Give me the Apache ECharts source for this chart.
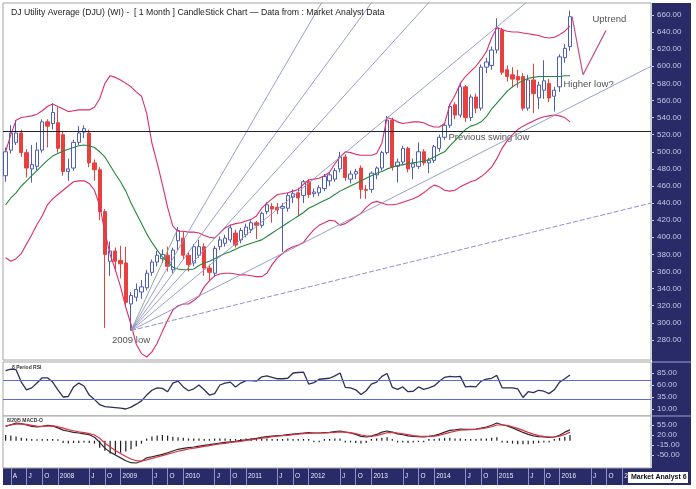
<!DOCTYPE html>
<html>
<head>
<meta charset="UTF-8">
<title>DJ Utility Average monthly</title>
<style type="text/css">
   html, body{
      margin:0;
      padding:0;
      background-color:#ffffff;
   }
   #container{
      width:696px;
      height:489px;
   }
</style>
</head>
<body>
<div id="container"></div>
<script src="https://cdn.jsdelivr.net/npm/echarts/dist/echarts.min.js"></script>
<script type="text/javascript">
// monthly bars from 2007-03, axis runs on to 2017-06
var startYear = 2007, startMonth = 3, monthCount = 124;

// [open, close, low, high]
var candles = [
  [472,500,465,505],[502,522,498,531],[511,522,508,537],[522,499,494,526],[499,481,470,503],
  [480,485,464,508],[483,502,478,511],[502,535,499,538],[535,530,505,538],[533,546,526,557],
  [534,504,499,552],[520,477,472,524],[477,480,466,492],[481,511,478,514],[511,522,508,530],
  [523,527,516,531],[522,487,482,526],[487,479,466,491],[479,430,420,482],[430,380,294,433],
  [372,384,355,395],[384,372,360,388],[373,369,352,390],[370,324,318,389],[322,332,291,336],
  [330,339,325,346],[336,342,328,350],[341,358,338,362],[359,371,355,374],[371,379,366,384],
  [375,380,370,386],[379,366,360,389],[362,385,358,388],[396,408,385,412],[399,379,374,407],
  [379,368,360,382],[370,389,366,392],[379,389,376,397],[389,364,355,393],[364,359,350,368],
  [358,387,354,390],[389,397,385,401],[393,399,389,403],[397,411,394,415],[405,391,388,409],
  [397,408,393,411],[403,412,400,416],[409,417,405,420],[417,414,398,419],[414,428,411,430],
  [430,438,427,441],[436,433,417,440],[435,432,427,440],[434,436,383,440],[434,449,430,452],
  [447,451,440,456],[452,446,425,458],[449,465,440,467],[465,450,446,468],[451,453,447,457],
  [452,458,448,461],[457,471,454,474],[466,473,460,476],[468,478,465,481],[480,494,476,500],
  [494,470,466,497],[468,474,463,478],[474,477,468,480],[481,456,445,484],[456,455,445,461],
  [456,475,452,477],[473,481,468,483],[481,499,478,501],[499,537,497,542],[537,482,478,540],
  [483,488,464,492],[488,504,484,507],[504,480,476,506],[482,486,468,492],[483,500,480,511],
  [500,487,484,503],[487,490,475,493],[490,506,487,508],[504,517,500,520],[517,531,514,534],
  [531,553,528,556],[555,543,538,558],[543,576,540,580],[576,540,535,578],[540,564,536,567],
  [564,551,545,568],[551,599,548,602],[599,605,592,610],[601,619,596,623],[619,645,615,656],
  [642,593,590,645],[596,588,582,601],[590,585,576,599],[588,584,575,596],[588,551,548,592],
  [551,584,548,590],[584,568,545,603],[563,578,550,582],[572,583,562,607],[580,563,558,585],
  [565,572,547,576],[576,611,570,614],[610,621,604,626],[623,658,618,665]
];

var upperBand = [
  500,520,537,540,541,542,544,548,553,556,
  553,550,547,548,549,549,549,552,562,580,
  589,587,584,580,576,570,565,545,510,487,
  462,435,413,407,407,406,406,405,402,400,
  399,405,411,414,416,417,419,421,425,434,
  440,445,450,451,452,454,456,462,467,468,
  469,472,476,486,494,500,499,497,496,496,
  496,498,510,540,538,535,533,534,535,535,
  534,531,529,529,533,555,566,580,588,594,
  600,608,617,633,645,643,641,640,640,639,
  638,637,636,634,633,634,637,641,647
];
var midBand = [
  438,446,452,460,466,472,478,484,490,495,
  498,501,503,505,507,508,507,505,500,494,
  484,474,465,454,440,428,416,404,394,385,
  377,371,365,363,362,362,363,367,370,372,
  375,378,381,383,386,389,391,393,395,397,
  401,405,409,413,417,421,425,429,434,437,
  440,443,446,450,454,457,460,463,466,469,
  472,475,477,480,482,484,485,486,487,488,
  489,491,494,497,500,507,513,520,526,530,
  532,535,541,550,557,564,571,576,580,583,
  586,587,588,588,588,588,588,589,589
];
var lowerBand = [
  376,372,375,381,392,403,415,425,438,445,
  450,455,460,465,466,466,463,455,437,406,
  380,362,342,318,298,275,264,260,266,276,
  290,303,315,320,322,322,326,331,342,349,
  355,357,358,358,357,356,356,355,354,354,
  358,368,376,381,386,389,391,394,402,409,
  414,417,420,419,414,416,420,424,428,435,
  440,442,440,438,438,439,441,443,445,448,
  452,457,461,459,455,454,455,459,462,465,
  467,471,476,482,492,504,513,520,526,530,
  533,536,539,541,542,543,542,540,535
];

var rsi = [
  90,93,92,66,50,54,64,75,75,66,
  50,35,36,56,64,58,39,30,19,15,
  14,13,12,10,14,20,27,39,49,54,
  53,46,64,68,56,48,52,60,50,39,
  42,60,64,66,56,64,69,69,68,77,
  79,76,73,73,74,85,86,87,62,65,
  72,73,74,79,85,55,54,50,40,48,
  62,66,78,84,55,51,56,46,47,56,
  51,54,58,68,76,78,77,78,56,57,
  56,68,72,74,80,54,54,54,52,34,
  46,44,49,47,42,50,66,73,81
];

var macd = [
  50,56,62,60,55,50,48,50,54,52,
  45,37,33,29,27,24,21,12,-6,-26,
  -40,-50,-60,-70,-77,-78,-72,-60,-56,-52,
  -48,-42,-36,-30,-27,-24,-22,-19,-16,-14,
  -11,-8,-6,-4,-2,1,3,6,8,12,
  14,16,18,19,21,23,25,27,28,27,
  27,28,29,32,34,30,27,22,15,13,
  16,22,30,34,30,24,21,17,15,14,
  13,15,18,23,30,36,38,41,40,40,
  41,44,48,54,62,56,52,45,37,29,
  22,17,14,13,12,13,19,30,38
];
var macdSignal = [
  52,55,58,59,57,54,51,50,51,52,
  49,44,39,35,31,28,25,20,9,-8,
  -22,-34,-45,-55,-64,-70,-71,-67,-62,-57,
  -52,-47,-42,-37,-33,-29,-26,-23,-20,-17,
  -14,-11,-9,-6,-4,-2,1,3,6,9,
  11,14,16,18,19,21,23,25,26,27,
  27,27,28,29,31,30,28,25,20,17,
  16,18,23,28,29,27,24,21,18,16,
  15,15,16,19,24,29,33,37,38,39,
  40,42,45,49,55,55,54,49,43,36,
  29,23,18,15,13,13,16,22,30
];
var macdHist = [
  20,18,15,10,8,6,5,6,6,6,
  5,-8,-10,-8,-8,-6,-8,-10,-25,-35,
  -45,-48,-42,-38,-30,-20,-10,8,15,18,
  20,18,14,12,10,8,8,8,6,6,
  8,8,8,6,6,6,8,8,6,8,
  8,6,6,6,8,6,6,6,6,-5,
  -5,6,6,8,8,-6,-6,-8,-10,-8,
  6,8,10,12,6,-6,-6,-8,-6,-5,
  -5,6,6,8,10,10,8,8,6,6,
  6,8,8,10,12,-6,-8,-10,-12,-12,
  -12,-10,-8,-6,-6,6,10,14,20
];

var priceTicks = [280,300,320,340,360,380,400,420,440,460,480,500,520,540,560,580,600,620,640,660];
var rsiTicks = [10,35,60,85];
var macdTicks = [-50,-15,20,55];

// overlay lines in [month index, price]
var fanOrigin = [24, 291];
var fanEnds = [[61, 680], [70.7, 680], [81.8, 680], [100.7, 680], [123.5, 600]];
var fanDashedEnd = [123.5, 440];
var fanSteepEnd = [32.8, 408];
var swingLow = 524;
var arrowPath = [[108.4, 658], [110.5, 590], [114.9, 642]];
var notes = [
  {text: '2009 low', at: [24, 291], pos: 'bottom'},
  {text: 'Previous swing low', at: [84.65, 516.7], pos: 'right'},
  {text: 'Higher low?', at: [106.66, 579.3], pos: 'right'},
  {text: 'Uptrend', at: [112.2, 655.3], pos: 'right'}
];

var months = [];
for (var k = 0; k < monthCount; k++) {
   var mm = (startMonth - 1 + k) % 12 + 1;
   var yy = startYear + Math.floor((startMonth - 1 + k) / 12);
   months.push(yy + '-' + (mm < 10 ? '0' + mm : mm));
}

var FONT = '"Liberation Sans", Arial, sans-serif';
var navy = '#282b68';
var axisText = '#c3c7e3';

function markMonth(idx, val){
   var m = +val.slice(5, 7);
   return m === 1 || m === 7 || m === 10 || val === '2007-04';
}
function monthLabel(val){
   var m = +val.slice(5, 7);
   if (m === 1) return val.slice(0, 4);
   return m === 4 ? 'A' : (m === 7 ? 'J' : 'O');
}
function two(v){ return v.toFixed(2); }

function rightAxis(grid, min, max, ticks){
   return {
      type: 'value', gridIndex: grid, position: 'right', min: min, max: max,
      splitLine: {show: false},
      axisLine: {show: false, onZero: false},
      axisTick: {show: true, customValues: ticks, length: 3, lineStyle: {color: axisText}},
      axisLabel: {customValues: ticks, formatter: two, color: axisText, fontSize: 8, margin: 6, fontFamily: FONT}
   };
}

var series = [];

series.push({
   type: 'candlestick', xAxisIndex: 0, yAxisIndex: 0,
   data: candles, barWidth: '72%',
   itemStyle: {color: '#ffffff', color0: '#e8413d', borderColor: '#4e5db8', borderColor0: '#e8413d', borderWidth: 1},
   markLine: {
      silent: true, symbol: 'none', label: {show: false},
      lineStyle: {color: '#222222', width: 1.2, type: 'solid'},
      data: [{yAxis: swingLow}]
   }
});

function bandLine(data, color){
   return {type: 'line', xAxisIndex: 0, yAxisIndex: 0, data: data, symbol: 'none', silent: true,
           lineStyle: {color: color, width: 1.1}};
}
series.push(bandLine(upperBand, '#dc2d6a'));
series.push(bandLine(lowerBand, '#dc2d6a'));
series.push(bandLine(midBand, '#23873a'));

fanEnds.forEach(function(end){
   series.push({type: 'line', xAxisIndex: 3, yAxisIndex: 0, data: [fanOrigin, end], symbol: 'none', silent: true,
                lineStyle: {color: '#8d93c9', width: 0.9}});
});
series.push({type: 'line', xAxisIndex: 3, yAxisIndex: 0, data: [fanOrigin, fanDashedEnd], symbol: 'none', silent: true,
             lineStyle: {color: '#8d93c9', width: 1, type: [5, 2]}});
series.push({type: 'line', xAxisIndex: 3, yAxisIndex: 0, data: [fanOrigin, fanSteepEnd], symbol: 'none', silent: true,
             lineStyle: {color: '#7fa27f', width: 0.9}});

series.push({type: 'line', xAxisIndex: 3, yAxisIndex: 0, data: arrowPath, symbol: 'none', silent: true,
             lineStyle: {color: '#c4508c', width: 1.2}});

series.push({
   type: 'scatter', xAxisIndex: 3, yAxisIndex: 0, symbolSize: 1, silent: true,
   itemStyle: {color: 'rgba(0,0,0,0)'},
   data: notes.map(function(n){
      return {value: n.at, label: {show: true, formatter: n.text, position: n.pos, distance: n.pos === 'bottom' ? 4 : 0}};
   }),
   label: {color: '#1e1e1e', fontSize: 9.5, fontFamily: FONT}
});

series.push({
   type: 'line', xAxisIndex: 1, yAxisIndex: 1, data: rsi, symbol: 'none', silent: true,
   lineStyle: {color: '#2d3057', width: 1.3},
   markLine: {
      silent: true, symbol: 'none', label: {show: false},
      lineStyle: {color: '#5a6ad6', width: 1, type: 'solid'},
      data: [{yAxis: 70}, {yAxis: 30}]
   }
});

series.push({type: 'bar', xAxisIndex: 2, yAxisIndex: 2, data: macdHist, barWidth: 1.2, silent: true,
             itemStyle: {color: '#1d1d1d'}});
series.push({type: 'line', xAxisIndex: 2, yAxisIndex: 2, data: macd, symbol: 'none', silent: true,
             lineStyle: {color: '#2a2a3a', width: 1.2}});
series.push({type: 'line', xAxisIndex: 2, yAxisIndex: 2, data: macdSignal, symbol: 'none', silent: true,
             lineStyle: {color: '#e0303a', width: 1.2}});

var gridStyle = {show: true, borderColor: '#a4a4a4', borderWidth: 1, backgroundColor: '#ffffff'};

var option = {
   animation: false,
   backgroundColor: '#ffffff',
   title: [
      {text: 'DJ Utility Average (DJU) (WI) -  [ 1 Month ] CandleStick Chart \u2014 Data from : Market Analyst Data',
       left: 11, top: 8, padding: 0,
       textStyle: {fontSize: 8.7, fontWeight: 'normal', color: '#222222', fontFamily: FONT}},
      {text: '8 Period RSI', left: 12, top: 365, padding: 0,
       textStyle: {fontSize: 5, fontWeight: 'bold', color: '#333333', fontFamily: FONT}},
      {text: '8/20/5 MACD-O', left: 7, top: 418, padding: 0,
       textStyle: {fontSize: 5, fontWeight: 'bold', color: '#333333', fontFamily: FONT}}
   ],
   grid: [
      Object.assign({left: 3, top: 3, width: 648, height: 357}, gridStyle),
      Object.assign({left: 3, top: 362, width: 648, height: 54}, gridStyle),
      Object.assign({left: 3, top: 416, width: 648, height: 52}, gridStyle)
   ],
   xAxis: [
      {type: 'category', gridIndex: 0, data: months, show: false, axisLine: {onZero: false}},
      {type: 'category', gridIndex: 1, data: months, show: false, axisLine: {onZero: false}},
      {type: 'category', gridIndex: 2, data: months, position: 'bottom',
       axisLine: {show: false, onZero: false},
       axisTick: {show: true, alignWithLabel: true, interval: markMonth, length: 17, lineStyle: {color: '#8d93c6'}},
       axisLabel: {interval: markMonth, formatter: monthLabel, color: '#e8eaf6', fontSize: 6.5, fontFamily: FONT,
                   align: 'left', margin: 5, padding: [0, 0, 0, 2]}},
      {type: 'value', gridIndex: 0, min: -0.5, max: monthCount - 0.5, show: false, axisLine: {onZero: false}}
   ],
   yAxis: [
      rightAxis(0, 256.5, 674, priceTicks),
      rightAxis(1, -4.6, 107.9, rsiTicks),
      rightAxis(2, -95.5, 86.5, macdTicks)
   ],
   graphic: [
      {type: 'rect', z: -10, silent: true, shape: {x: 652, y: 3, width: 39, height: 482}, style: {fill: navy}},
      {type: 'rect', z: -10, silent: true, shape: {x: 3, y: 468, width: 688, height: 17}, style: {fill: navy}},
      {type: 'line', z: -9, silent: true, shape: {x1: 652, y1: 362, x2: 691, y2: 362}, style: {stroke: '#9ca2d0', lineWidth: 1}},
      {type: 'line', z: -9, silent: true, shape: {x1: 652, y1: 416, x2: 691, y2: 416}, style: {stroke: '#9ca2d0', lineWidth: 1}},
      {type: 'rect', z: 50, silent: true, shape: {x: 628, y: 472, width: 60, height: 11}, style: {fill: '#ffffff'}},
      {type: 'text', z: 51, silent: true, x: 631, y: 474,
       style: {text: 'Market Analyst 6', fill: '#111111', font: 'bold 7px "Liberation Sans", Arial, sans-serif'}}
   ],
   series: series
};

var myChart = echarts.init(document.getElementById('container'));
myChart.setOption(option, true);
</script>
</body>
</html>
